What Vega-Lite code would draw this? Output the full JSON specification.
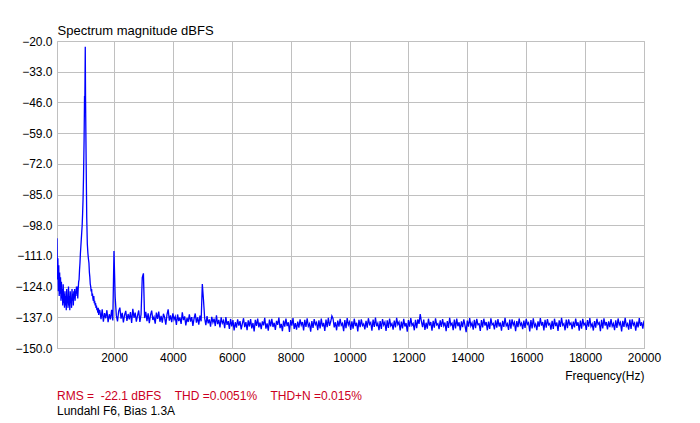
{
"$schema": "https://vega.github.io/schema/vega-lite/v6.json",
"width": 587, "height": 307,
"autosize": {"type": "none"},
"padding": {"left": 57, "top": 41, "right": 56, "bottom": 75},
"background": "white",
"config": {"font": "Liberation Sans", "view": {"stroke": "#c0c0c0", "strokeWidth": 1}},
"title": {"text": "RMS =\u00a0\u00a0-22.1 dBFS\u00a0\u00a0\u00a0\u00a0THD =0.0051%\u00a0\u00a0\u00a0\u00a0THD+N =0.015%", "subtitle": "Lundahl F6, Bias 1.3A", "orient": "bottom", "anchor": "start", "frame": "group", "fontSize": 12, "fontWeight": "normal", "color": "#cc0022", "subtitleColor": "#000000", "subtitleFontSize": 12, "offset": 10, "subtitlePadding": 3, "font": "Liberation Sans", "subtitleFont": "Liberation Sans"},
"data": {"values": [
{"freq":65,"db":-103.5},{"freq":80,"db":-121},{"freq":95,"db":-112},{"freq":110,"db":-126},{"freq":125,"db":-115},{"freq":140,"db":-128},{"freq":155,"db":-118},{"freq":170,"db":-127},{"freq":185,"db":-120},{"freq":200,"db":-130},
{"freq":215,"db":-122},{"freq":230,"db":-129},{"freq":245,"db":-125},{"freq":260,"db":-132},{"freq":275,"db":-123},{"freq":290,"db":-131},{"freq":305,"db":-127},{"freq":320,"db":-133},{"freq":335,"db":-126},{"freq":350,"db":-132},
{"freq":365,"db":-128},{"freq":380,"db":-134},{"freq":395,"db":-125},{"freq":410,"db":-131},{"freq":425,"db":-129},{"freq":440,"db":-133},{"freq":455,"db":-124},{"freq":470,"db":-132},{"freq":485,"db":-128},{"freq":500,"db":-134},
{"freq":515,"db":-126},{"freq":530,"db":-131},{"freq":545,"db":-129},{"freq":560,"db":-133},{"freq":575,"db":-125},{"freq":590,"db":-130},{"freq":605,"db":-127},{"freq":620,"db":-132},{"freq":635,"db":-126},{"freq":650,"db":-129},
{"freq":665,"db":-125},{"freq":680,"db":-130},{"freq":695,"db":-126},{"freq":710,"db":-128},{"freq":725,"db":-124},{"freq":740,"db":-127},{"freq":755,"db":-124},{"freq":770,"db":-129},{"freq":785,"db":-125},{"freq":800,"db":-122},
{"freq":815,"db":-121},{"freq":830,"db":-117},{"freq":845,"db":-114},{"freq":860,"db":-110},{"freq":875,"db":-107},{"freq":890,"db":-104},{"freq":905,"db":-101},{"freq":920,"db":-98},{"freq":935,"db":-93},{"freq":950,"db":-87},
{"freq":965,"db":-78},{"freq":985,"db":-62},{"freq":1000,"db":-43.6},{"freq":1012,"db":-43.6},{"freq":1025,"db":-22.4},{"freq":1035,"db":-45},{"freq":1055,"db":-71},{"freq":1075,"db":-95},{"freq":1095,"db":-106},{"freq":1115,"db":-110},
{"freq":1130,"db":-112},{"freq":1150,"db":-114},{"freq":1165,"db":-118},{"freq":1180,"db":-120},{"freq":1195,"db":-123},{"freq":1210,"db":-124},{"freq":1225,"db":-126},{"freq":1240,"db":-125},{"freq":1255,"db":-128},{"freq":1270,"db":-127},
{"freq":1285,"db":-129},{"freq":1300,"db":-130},{"freq":1315,"db":-128},{"freq":1330,"db":-131},{"freq":1345,"db":-130},{"freq":1360,"db":-132},{"freq":1375,"db":-131},{"freq":1390,"db":-133},{"freq":1405,"db":-132},{"freq":1420,"db":-134},
{"freq":1435,"db":-133},{"freq":1450,"db":-135},{"freq":1465,"db":-133},{"freq":1480,"db":-136},{"freq":1495,"db":-134},
{"freq":1520,"db":-134.1},{"freq":1560,"db":-137.8},{"freq":1600,"db":-133.6},{"freq":1640,"db":-138.9},{"freq":1680,"db":-135.2},{"freq":1720,"db":-137.4},{"freq":1760,"db":-134.0},{"freq":1800,"db":-139.1},{"freq":1840,"db":-135.7},{"freq":1880,"db":-137.9},
{"freq":1920,"db":-133.8},{"freq":1960,"db":-138.3},{"freq":2000,"db":-108.9},{"freq":2040,"db":-128.3},{"freq":2080,"db":-136.2},{"freq":2120,"db":-138.7},{"freq":2160,"db":-134.4},{"freq":2200,"db":-132.9},{"freq":2240,"db":-137.6},{"freq":2280,"db":-135.1},
{"freq":2320,"db":-139.2},{"freq":2360,"db":-136.0},{"freq":2400,"db":-134.3},{"freq":2440,"db":-138.5},{"freq":2480,"db":-135.6},{"freq":2520,"db":-137.9},{"freq":2560,"db":-134.8},{"freq":2600,"db":-139.4},{"freq":2640,"db":-133.4},{"freq":2680,"db":-137.2},
{"freq":2720,"db":-135.0},{"freq":2760,"db":-138.8},{"freq":2800,"db":-136.3},{"freq":2840,"db":-134.1},{"freq":2880,"db":-139.0},{"freq":2920,"db":-135.8},{"freq":2960,"db":-120.2},{"freq":3000,"db":-118.4},{"freq":3040,"db":-137.3},{"freq":3080,"db":-134.7},
{"freq":3120,"db":-138.6},{"freq":3160,"db":-135.3},{"freq":3200,"db":-139.5},{"freq":3240,"db":-136.1},{"freq":3280,"db":-134.2},{"freq":3320,"db":-138.1},{"freq":3360,"db":-136.8},{"freq":3400,"db":-139.7},{"freq":3440,"db":-135.0},{"freq":3480,"db":-137.7},
{"freq":3520,"db":-134.6},{"freq":3560,"db":-138.9},{"freq":3600,"db":-136.4},{"freq":3640,"db":-139.3},{"freq":3680,"db":-135.5},{"freq":3720,"db":-137.0},{"freq":3760,"db":-140.1},{"freq":3800,"db":-135.9},{"freq":3840,"db":-133.6},{"freq":3880,"db":-138.4},
{"freq":3920,"db":-136.2},{"freq":3960,"db":-139.1},{"freq":4000,"db":-135.3},{"freq":4040,"db":-138.0},{"freq":4080,"db":-136.7},{"freq":4120,"db":-140.2},{"freq":4160,"db":-135.8},{"freq":4200,"db":-138.6},{"freq":4240,"db":-137.1},{"freq":4280,"db":-139.8},
{"freq":4320,"db":-134.9},{"freq":4360,"db":-138.2},{"freq":4400,"db":-136.6},{"freq":4440,"db":-140.4},{"freq":4480,"db":-137.3},{"freq":4520,"db":-139.0},{"freq":4560,"db":-135.7},{"freq":4600,"db":-138.8},{"freq":4640,"db":-136.9},{"freq":4680,"db":-140.6},
{"freq":4720,"db":-137.5},{"freq":4760,"db":-135.4},{"freq":4800,"db":-139.3},{"freq":4840,"db":-137.0},{"freq":4880,"db":-140.1},{"freq":4920,"db":-136.3},{"freq":4960,"db":-138.7},{"freq":5000,"db":-122.9},{"freq":5040,"db":-129.7},{"freq":5080,"db":-137.4},
{"freq":5120,"db":-140.3},{"freq":5160,"db":-136.5},{"freq":5200,"db":-139.6},{"freq":5240,"db":-137.9},{"freq":5280,"db":-141.0},{"freq":5320,"db":-136.8},{"freq":5360,"db":-139.2},{"freq":5400,"db":-137.6},{"freq":5440,"db":-140.7},{"freq":5480,"db":-136.2},
{"freq":5520,"db":-139.9},{"freq":5560,"db":-138.1},{"freq":5600,"db":-141.3},{"freq":5640,"db":-137.0},{"freq":5680,"db":-139.5},{"freq":5720,"db":-138.4},{"freq":5760,"db":-141.6},{"freq":5800,"db":-136.9},{"freq":5840,"db":-140.2},{"freq":5880,"db":-138.6},
{"freq":5920,"db":-141.9},{"freq":5960,"db":-137.7},
{"freq":6000,"db":-140.8},{"freq":6040,"db":-138.2},{"freq":6080,"db":-142.6},{"freq":6120,"db":-139.1},{"freq":6160,"db":-141.4},{"freq":6200,"db":-137.9},{"freq":6240,"db":-140.5},{"freq":6280,"db":-138.6},{"freq":6320,"db":-142.1},{"freq":6360,"db":-139.7},
{"freq":6400,"db":-137.4},{"freq":6440,"db":-141.2},{"freq":6480,"db":-139.0},{"freq":6520,"db":-142.4},{"freq":6560,"db":-138.3},{"freq":6600,"db":-140.9},{"freq":6640,"db":-137.8},{"freq":6680,"db":-141.7},{"freq":6720,"db":-139.4},{"freq":6760,"db":-143.0},
{"freq":6800,"db":-138.1},{"freq":6840,"db":-140.6},{"freq":6880,"db":-137.5},{"freq":6920,"db":-141.3},{"freq":6960,"db":-139.2},{"freq":7000,"db":-142.0},{"freq":7040,"db":-138.7},{"freq":7080,"db":-140.4},{"freq":7120,"db":-137.2},{"freq":7160,"db":-141.8},
{"freq":7200,"db":-139.6},{"freq":7240,"db":-142.7},{"freq":7280,"db":-138.0},{"freq":7320,"db":-140.9},{"freq":7360,"db":-137.7},{"freq":7400,"db":-141.1},{"freq":7440,"db":-139.3},{"freq":7480,"db":-142.3},{"freq":7520,"db":-138.5},{"freq":7560,"db":-140.2},
{"freq":7600,"db":-137.1},{"freq":7640,"db":-141.6},{"freq":7680,"db":-139.8},{"freq":7720,"db":-142.9},{"freq":7760,"db":-138.4},{"freq":7800,"db":-141.0},{"freq":7840,"db":-137.6},{"freq":7880,"db":-140.7},{"freq":7920,"db":-139.1},{"freq":7960,"db":-143.2},
{"freq":8000,"db":-138.2},{"freq":8040,"db":-140.5},{"freq":8080,"db":-137.3},{"freq":8120,"db":-141.9},{"freq":8160,"db":-139.5},{"freq":8200,"db":-142.2},{"freq":8240,"db":-138.8},{"freq":8280,"db":-141.4},{"freq":8320,"db":-137.9},{"freq":8360,"db":-140.3},
{"freq":8400,"db":-139.0},{"freq":8440,"db":-142.6},{"freq":8480,"db":-138.1},{"freq":8520,"db":-141.1},{"freq":8560,"db":-137.4},{"freq":8600,"db":-140.8},{"freq":8640,"db":-139.7},{"freq":8680,"db":-143.1},{"freq":8720,"db":-138.6},{"freq":8760,"db":-141.5},
{"freq":8800,"db":-137.8},{"freq":8840,"db":-140.1},{"freq":8880,"db":-139.2},{"freq":8920,"db":-142.4},{"freq":8960,"db":-138.3},{"freq":9000,"db":-141.7},{"freq":9040,"db":-137.5},{"freq":9080,"db":-140.9},{"freq":9120,"db":-139.4},{"freq":9160,"db":-142.8},
{"freq":9200,"db":-138.0},{"freq":9240,"db":-141.2},{"freq":9280,"db":-137.2},{"freq":9320,"db":-140.6},{"freq":9360,"db":-138.9},{"freq":9400,"db":-136.4},{"freq":9440,"db":-137.6},{"freq":9480,"db":-141.3},{"freq":9520,"db":-139.1},{"freq":9560,"db":-142.5},
{"freq":9600,"db":-138.4},{"freq":9640,"db":-141.0},{"freq":9680,"db":-137.7},{"freq":9720,"db":-140.4},{"freq":9760,"db":-139.6},{"freq":9800,"db":-142.9},{"freq":9840,"db":-138.2},{"freq":9880,"db":-141.6},{"freq":9920,"db":-137.3},{"freq":9960,"db":-140.2},
{"freq":10000,"db":-139.0},{"freq":10040,"db":-142.3},{"freq":10080,"db":-138.7},{"freq":10120,"db":-141.8},{"freq":10160,"db":-137.6},{"freq":10200,"db":-140.7},{"freq":10240,"db":-139.3},{"freq":10280,"db":-143.0},{"freq":10320,"db":-138.1},{"freq":10360,"db":-141.2},
{"freq":10400,"db":-137.9},{"freq":10440,"db":-140.5},{"freq":10480,"db":-139.8},{"freq":10520,"db":-142.1},{"freq":10560,"db":-138.5},{"freq":10600,"db":-141.4},{"freq":10640,"db":-137.4},{"freq":10680,"db":-140.0},{"freq":10720,"db":-139.2},{"freq":10760,"db":-142.7},
{"freq":10800,"db":-138.0},{"freq":10840,"db":-141.1},{"freq":10880,"db":-137.1},{"freq":10920,"db":-140.8},{"freq":10960,"db":-139.5},{"freq":11000,"db":-142.4},{"freq":11040,"db":-138.6},{"freq":11080,"db":-141.9},{"freq":11120,"db":-137.8},{"freq":11160,"db":-140.3},
{"freq":11200,"db":-139.1},{"freq":11240,"db":-142.8},{"freq":11280,"db":-138.3},{"freq":11320,"db":-141.5},{"freq":11360,"db":-137.5},{"freq":11400,"db":-140.6},{"freq":11440,"db":-139.7},{"freq":11480,"db":-142.2},{"freq":11520,"db":-138.4},{"freq":11560,"db":-141.3},
{"freq":11600,"db":-137.2},{"freq":11640,"db":-140.1},{"freq":11680,"db":-139.0},{"freq":11720,"db":-142.6},{"freq":11760,"db":-138.8},{"freq":11800,"db":-141.7},{"freq":11840,"db":-137.7},{"freq":11880,"db":-140.9},{"freq":11920,"db":-139.4},{"freq":11960,"db":-143.1},
{"freq":12000,"db":-138.2},{"freq":12040,"db":-141.0},{"freq":12080,"db":-137.3},{"freq":12120,"db":-140.4},{"freq":12160,"db":-139.6},{"freq":12200,"db":-142.5},{"freq":12240,"db":-138.1},{"freq":12280,"db":-141.6},{"freq":12320,"db":-137.9},{"freq":12360,"db":-139.8},
{"freq":12400,"db":-135.6},{"freq":12440,"db":-138.7},{"freq":12480,"db":-141.2},{"freq":12520,"db":-138.0},{"freq":12560,"db":-142.3},{"freq":12600,"db":-139.3},{"freq":12640,"db":-141.8},{"freq":12680,"db":-137.6},{"freq":12720,"db":-140.5},{"freq":12760,"db":-139.0},
{"freq":12800,"db":-142.7},{"freq":12840,"db":-138.5},{"freq":12880,"db":-141.4},{"freq":12920,"db":-137.4},{"freq":12960,"db":-140.2},{"freq":13000,"db":-139.7},{"freq":13040,"db":-142.0},{"freq":13080,"db":-138.3},{"freq":13120,"db":-141.1},{"freq":13160,"db":-137.8},
{"freq":13200,"db":-140.6},{"freq":13240,"db":-139.2},{"freq":13280,"db":-142.9},{"freq":13320,"db":-138.6},{"freq":13360,"db":-141.5},{"freq":13400,"db":-137.2},{"freq":13440,"db":-140.3},{"freq":13480,"db":-139.5},{"freq":13520,"db":-142.4},{"freq":13560,"db":-138.0},
{"freq":13600,"db":-141.7},{"freq":13640,"db":-137.5},{"freq":13680,"db":-140.8},{"freq":13720,"db":-139.1},{"freq":13760,"db":-142.6},{"freq":13800,"db":-138.7},{"freq":13840,"db":-141.2},{"freq":13880,"db":-137.9},{"freq":13920,"db":-140.4},{"freq":13960,"db":-143.3},
{"freq":14000,"db":-138.4},{"freq":14040,"db":-141.0},{"freq":14080,"db":-137.3},{"freq":14120,"db":-140.7},{"freq":14160,"db":-139.4},{"freq":14200,"db":-142.2},{"freq":14240,"db":-138.1},{"freq":14280,"db":-141.6},{"freq":14320,"db":-137.7},{"freq":14360,"db":-140.1},
{"freq":14400,"db":-139.8},{"freq":14440,"db":-142.8},{"freq":14480,"db":-138.2},{"freq":14520,"db":-141.3},{"freq":14560,"db":-137.6},{"freq":14600,"db":-140.5},{"freq":14640,"db":-139.0},{"freq":14680,"db":-142.5},{"freq":14720,"db":-138.8},{"freq":14760,"db":-141.9},
{"freq":14800,"db":-137.4},{"freq":14840,"db":-140.2},{"freq":14880,"db":-139.6},{"freq":14920,"db":-142.1},{"freq":14960,"db":-138.3},{"freq":15000,"db":-141.4},{"freq":15040,"db":-137.8},{"freq":15080,"db":-140.9},{"freq":15120,"db":-139.2},{"freq":15160,"db":-142.7},
{"freq":15200,"db":-138.5},{"freq":15240,"db":-141.1},{"freq":15280,"db":-137.2},{"freq":15320,"db":-140.6},{"freq":15360,"db":-139.7},{"freq":15400,"db":-142.3},{"freq":15440,"db":-138.0},{"freq":15480,"db":-141.8},{"freq":15520,"db":-137.9},{"freq":15560,"db":-140.3},
{"freq":15600,"db":-139.1},{"freq":15640,"db":-142.9},{"freq":15680,"db":-138.6},{"freq":15720,"db":-141.2},{"freq":15760,"db":-137.5},{"freq":15800,"db":-140.4},{"freq":15840,"db":-139.5},{"freq":15880,"db":-142.0},{"freq":15920,"db":-138.4},{"freq":15960,"db":-141.5},
{"freq":16000,"db":-137.7},{"freq":16040,"db":-140.0},{"freq":16080,"db":-139.3},{"freq":16120,"db":-143.0},{"freq":16160,"db":-138.2},{"freq":16200,"db":-141.7},{"freq":16240,"db":-137.4},{"freq":16280,"db":-140.8},{"freq":16320,"db":-139.8},{"freq":16360,"db":-142.4},
{"freq":16400,"db":-138.7},{"freq":16440,"db":-141.0},{"freq":16480,"db":-137.3},{"freq":16520,"db":-140.5},{"freq":16560,"db":-139.0},{"freq":16600,"db":-142.6},{"freq":16640,"db":-138.1},{"freq":16680,"db":-141.4},{"freq":16720,"db":-137.8},{"freq":16760,"db":-140.2},
{"freq":16800,"db":-139.6},{"freq":16840,"db":-142.2},{"freq":16880,"db":-138.5},{"freq":16920,"db":-141.9},{"freq":16960,"db":-137.6},{"freq":17000,"db":-140.7},{"freq":17040,"db":-139.2},{"freq":17080,"db":-142.8},{"freq":17120,"db":-138.3},{"freq":17160,"db":-141.1},
{"freq":17200,"db":-137.2},{"freq":17240,"db":-140.4},{"freq":17280,"db":-139.7},{"freq":17320,"db":-142.5},{"freq":17360,"db":-138.0},{"freq":17400,"db":-141.6},{"freq":17440,"db":-137.9},{"freq":17480,"db":-140.1},{"freq":17520,"db":-139.4},{"freq":17560,"db":-142.0},
{"freq":17600,"db":-138.8},{"freq":17640,"db":-141.3},{"freq":17680,"db":-137.5},{"freq":17720,"db":-140.6},{"freq":17760,"db":-139.1},{"freq":17800,"db":-142.7},{"freq":17840,"db":-138.4},{"freq":17880,"db":-141.8},{"freq":17920,"db":-137.7},{"freq":17960,"db":-140.3},
{"freq":18000,"db":-139.5},{"freq":18040,"db":-142.3},{"freq":18080,"db":-138.2},{"freq":18120,"db":-141.0},{"freq":18160,"db":-137.3},{"freq":18200,"db":-140.9},{"freq":18240,"db":-139.8},{"freq":18280,"db":-142.6},{"freq":18320,"db":-138.6},{"freq":18360,"db":-141.4},
{"freq":18400,"db":-137.6},{"freq":18440,"db":-140.0},{"freq":18480,"db":-139.3},{"freq":18520,"db":-142.9},{"freq":18560,"db":-138.1},{"freq":18600,"db":-141.7},{"freq":18640,"db":-137.4},{"freq":18680,"db":-140.5},{"freq":18720,"db":-139.0},{"freq":18760,"db":-142.1},
{"freq":18800,"db":-138.7},{"freq":18840,"db":-141.2},{"freq":18880,"db":-137.8},{"freq":18920,"db":-140.8},{"freq":18960,"db":-139.6},{"freq":19000,"db":-142.4},{"freq":19040,"db":-138.3},{"freq":19080,"db":-141.5},{"freq":19120,"db":-137.5},{"freq":19160,"db":-140.2},
{"freq":19200,"db":-139.2},{"freq":19240,"db":-143.0},{"freq":19280,"db":-138.5},{"freq":19320,"db":-141.1},{"freq":19360,"db":-137.2},{"freq":19400,"db":-140.7},{"freq":19440,"db":-139.7},{"freq":19480,"db":-142.2},{"freq":19520,"db":-138.0},{"freq":19560,"db":-141.9},
{"freq":19600,"db":-137.9},{"freq":19640,"db":-140.3},{"freq":19680,"db":-139.4},{"freq":19720,"db":-142.7},{"freq":19760,"db":-138.8},{"freq":19800,"db":-141.3},{"freq":19840,"db":-137.3},{"freq":19880,"db":-140.6},{"freq":19920,"db":-139.1},{"freq":19960,"db":-141.8},
{"freq":20000,"db":-138.4}
]},
"mark": {"type": "line", "color": "#0000ff", "strokeWidth": 1.3, "clip": true},
"encoding": {
"x": {"field": "freq", "type": "quantitative", "scale": {"domain": [65, 20000], "nice": false, "zero": false},
 "axis": {"values": [2000,4000,6000,8000,10000,12000,14000,16000,18000,20000], "format": "d", "title": "Frequency(Hz)", "titleAnchor": "end", "titleAlign": "right", "titleFontWeight": "normal", "titleFontSize": 12, "titleColor": "#000000", "titlePadding": 7, "labelFontSize": 12, "labelColor": "#000000", "labelPadding": 4, "ticks": false, "grid": true, "gridColor": "#c0c0c0", "gridOpacity": 1, "domainColor": "#c0c0c0", "labelFlush": false, "labelOverlap": false}},
"y": {"field": "db", "type": "quantitative", "scale": {"domain": [-150, -20], "nice": false, "zero": false},
 "axis": {"values": [-150,-137,-124,-111,-98,-85,-72,-59,-46,-33,-20], "format": ".1f", "title": "Spectrum magnitude dBFS", "titleAngle": 0, "titleAlign": "left", "titleBaseline": "alphabetic", "titleX": 0, "titleY": -7, "titleFontWeight": "normal", "titleFontSize": 13, "titleColor": "#000000", "labelFontSize": 12, "labelColor": "#000000", "labelPadding": 5, "ticks": false, "grid": true, "gridColor": "#c0c0c0", "gridOpacity": 1, "domainColor": "#c0c0c0", "labelFlush": false, "labelOverlap": false}}
}
}
